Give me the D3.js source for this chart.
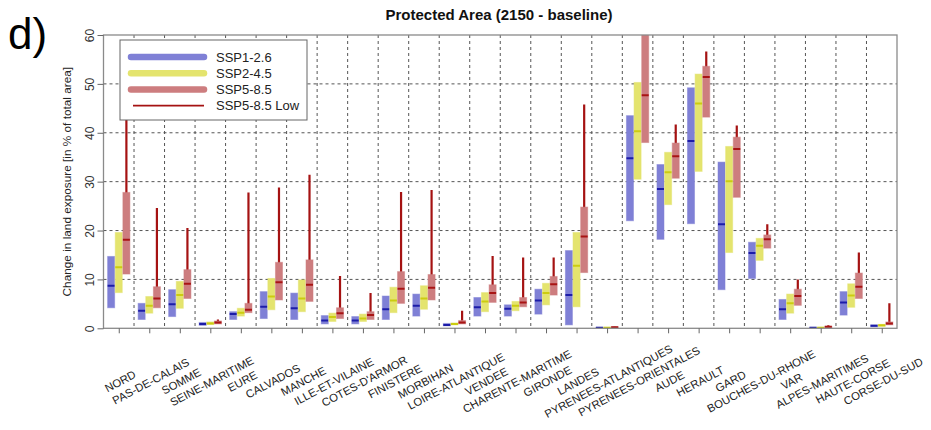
<!DOCTYPE html>
<html><head><meta charset="utf-8">
<script src="https://cdn.jsdelivr.net/npm/d3@7"></script>
<style>body{margin:0;background:#fff;} svg{display:block;font-family:"Liberation Sans",Arial,sans-serif;}</style>
</head><body>
<svg id="chart" width="931" height="430"></svg>
<script>
const categories = ["NORD","PAS-DE-CALAIS","SOMME","SEINE-MARITIME","EURE","CALVADOS","MANCHE","ILLE-ET-VILAINE","COTES-D'ARMOR","FINISTERE","MORBIHAN","LOIRE-ATLANTIQUE","VENDEE","CHARENTE-MARITIME","GIRONDE","LANDES","PYRENEES-ATLANTIQUES","PYRENEES-ORIENTALES","AUDE","HERAULT","GARD","BOUCHES-DU-RHONE","VAR","ALPES-MARITIMES","HAUTE-CORSE","CORSE-DU-SUD"];

// SSP1-2.6
const ssp126Low  = [4.2,1.8,2.4,0.6,1.8,2.0,1.8,0.9,0.9,1.8,2.5,0.5,2.5,2.5,2.9,0.7,0.0,22.0,18.2,21.4,7.9,10.2,1.8,0.0,2.7,0.3];
const ssp126Med  = [8.7,3.6,4.9,0.9,2.9,4.4,4.1,1.6,1.6,3.9,4.6,0.7,4.3,4.0,5.7,6.8,0.1,34.8,28.5,38.3,21.3,15.4,3.9,0.1,5.3,0.5];
const ssp126High = [14.7,5.1,7.9,1.2,3.4,7.5,7.2,2.6,2.4,6.6,7.0,1.0,6.3,4.8,8.0,15.9,0.2,43.5,33.5,49.2,34.0,17.6,5.9,0.2,7.5,0.7];
// SSP2-4.5
const ssp245Low  = [7.3,3.1,4.1,0.8,2.5,3.8,3.4,1.4,1.4,3.2,3.9,0.7,3.4,3.6,4.8,4.4,0.0,30.5,25.3,32.1,15.5,13.9,3.1,0.0,4.3,0.4];
const ssp245Med  = [12.5,4.6,6.8,1.0,3.2,6.5,6.1,2.3,2.0,5.7,6.1,0.9,5.5,4.6,7.2,12.8,0.1,40.3,31.9,46.0,30.1,16.9,5.1,0.1,6.7,0.6];
const ssp245High = [19.6,6.5,9.6,1.3,4.1,10.2,9.9,3.1,2.9,8.4,8.7,1.1,7.3,5.5,9.2,19.6,0.2,50.3,36.0,52.0,37.2,18.4,7.0,0.2,9.1,0.8];
// SSP5-8.5
const ssp585Low  = [11.1,4.2,6.1,0.9,3.2,5.8,5.5,2.0,1.8,5.1,5.8,0.9,5.3,4.4,6.8,11.4,0.1,38.0,30.7,43.2,26.8,16.4,4.7,0.1,6.1,0.7];
const ssp585Med  = [18.1,6.1,9.1,1.2,3.8,9.4,8.9,3.1,2.7,8.1,8.3,1.2,7.2,5.3,9.0,18.8,0.2,47.7,35.2,51.4,36.7,18.2,6.6,0.3,8.5,1.0];
const ssp585High = [27.8,8.5,12.0,1.5,5.1,13.5,14.0,4.2,3.4,11.6,11.0,1.6,8.9,6.3,10.6,24.8,0.3,62.0,37.9,53.6,39.1,19.1,8.0,0.4,11.3,1.3];
// SSP5-8.5 Low (upper end of thin line)
const ssp585LowTop = [46.0,24.6,20.5,1.8,27.8,28.8,31.4,10.7,7.2,27.9,28.3,3.6,14.8,14.5,14.5,45.8,0.3,65.0,41.7,56.6,41.5,21.3,10.0,0.6,15.5,5.1];

const yTicks = [0,10,20,30,40,50,60];
const seriesNames = ["SSP1-2.6","SSP2-4.5","SSP5-8.5","SSP5-8.5 Low"];

const series = [
  {name:"SSP1-2.6", lo:ssp126Low, med:ssp126Med, hi:ssp126High, fill:"#7f80d6", medc:"#1c1ca8", off:-1},
  {name:"SSP2-4.5", lo:ssp245Low, med:ssp245Med, hi:ssp245High, fill:"#e4e46e", medc:"#cccc10", off:0},
  {name:"SSP5-8.5", lo:ssp585Low, med:ssp585Med, hi:ssp585High, fill:"#cd7d7f", medc:"#a81414", off:1}
];
const lineColor = "#a51212";

const svg = d3.select("#chart");
const L=103.5, R=897, T=35, B=328.3;
const x = d3.scaleLinear().domain([0.5, categories.length+0.5]).range([L,R]);
const y = d3.scaleLinear().domain([0,60]).range([B,T]);
const step = x(2)-x(1);
const offs = step*0.25, bw = step*0.23;

svg.append("defs").append("clipPath").attr("id","clip")
  .append("rect").attr("x",L).attr("y",T).attr("width",R-L).attr("height",B-T);

// grid
const grid = svg.append("g").attr("stroke","#555").attr("stroke-width",1).attr("stroke-dasharray","3,3");
grid.selectAll("line.h").data(yTicks.slice(1,-1)).join("line")
  .attr("x1",L).attr("x2",R).attr("y1",d=>y(d)).attr("y2",d=>y(d));
grid.selectAll("line.v").data(d3.range(1,categories.length)).join("line")
  .attr("x1",d=>x(d+0.5)).attr("x2",d=>x(d+0.5)).attr("y1",T).attr("y2",B);

const plot = svg.append("g").attr("clip-path","url(#clip)");

// low lines
plot.selectAll("line.low").data(categories).join("line")
  .attr("x1",(d,i)=>x(i+1)+offs).attr("x2",(d,i)=>x(i+1)+offs)
  .attr("y1",(d,i)=>y(ssp585Med[i])).attr("y2",(d,i)=>y(ssp585LowTop[i]))
  .attr("stroke",lineColor).attr("stroke-width",2.2);

series.forEach(s=>{
  const g = plot.append("g");
  g.selectAll("rect").data(categories).join("rect")
    .attr("x",(d,i)=>x(i+1)+s.off*offs-bw/2)
    .attr("width",bw)
    .attr("y",(d,i)=>y(s.hi[i]))
    .attr("height",(d,i)=>Math.max(2,y(s.lo[i])-y(s.hi[i])))
    .attr("fill",s.fill).attr("stroke",s.fill).attr("stroke-opacity",0.5).attr("stroke-width",1);
  g.selectAll("line").data(categories).join("line")
    .attr("x1",(d,i)=>x(i+1)+s.off*offs-bw/2).attr("x2",(d,i)=>x(i+1)+s.off*offs+bw/2)
    .attr("y1",(d,i)=>y(s.med[i])).attr("y2",(d,i)=>y(s.med[i]))
    .attr("stroke",s.medc).attr("stroke-width",2);
});

// frame
svg.append("rect").attr("x",L).attr("y",T).attr("width",R-L).attr("height",B-T)
  .attr("fill","none").attr("stroke","#8a8a8a").attr("stroke-width",1.3);

// y axis
const yAxis = svg.append("g").attr("transform",`translate(${L},0)`)
  .call(d3.axisLeft(y).tickValues(yTicks).tickSize(6).tickFormat(d3.format("d")));
yAxis.select(".domain").remove();
yAxis.selectAll("line").attr("stroke","#666");
yAxis.selectAll("text").attr("font-size",12).attr("fill","#333")
  .attr("font-family","Liberation Sans, Arial, sans-serif")
  .attr("x",null).attr("dy",null)
  .attr("text-anchor","middle")
  .attr("transform","translate(-10,0) rotate(-90)");

// x axis
const xAxis = svg.append("g").attr("transform",`translate(0,${B})`)
  .call(d3.axisBottom(x).tickValues(d3.range(1,categories.length+1)).tickSize(5).tickFormat(d=>categories[d-1]));
xAxis.select(".domain").remove();
xAxis.selectAll("line").attr("stroke","#666");
xAxis.selectAll("text").attr("font-size",11.3).attr("fill","#222")
  .attr("font-family","Liberation Sans, Arial, sans-serif")
  .attr("y",null).attr("dy","0.35em")
  .attr("text-anchor","middle")
  .attr("transform","translate(1,53) rotate(-28)");

// y title
svg.append("text").attr("transform",`translate(67,${(T+B)/2}) rotate(-90)`)
  .attr("text-anchor","middle").attr("dy","0.35em").attr("font-size",11.8).attr("fill","#222")
  .text("Change in land exposure [in % of total area]");

// title
svg.append("text").attr("x",499).attr("y",20).attr("text-anchor","middle")
  .attr("font-size",15).attr("font-weight","bold").attr("fill","#111")
  .text("Protected Area (2150 - baseline)");

// panel label
svg.append("text").attr("x",8).attr("y",49).attr("font-size",44).attr("fill","#000")
  .attr("font-family","Liberation Sans, Arial, sans-serif").text("d)");

// legend
const lg = svg.append("g");
lg.append("rect").attr("x",120).attr("y",40).attr("width",187).attr("height",80)
  .attr("fill","#fff").attr("stroke","#666").attr("stroke-width",1);
const legendStyles = [
  {c:"#7f80d6", w:6.5}, {c:"#e4e46e", w:6.5}, {c:"#cd7d7f", w:6.5}, {c:lineColor, w:1.8}
];
seriesNames.forEach((n,i)=>{
  const yy = 57 + i*16.2;
  lg.append("line").attr("x1",i<3?131:133).attr("x2",204).attr("y1",yy).attr("y2",yy)
    .attr("stroke",legendStyles[i].c).attr("stroke-width",legendStyles[i].w)
    .attr("stroke-linecap",i<3?"round":"butt");
  lg.append("text").attr("x",216).attr("y",yy).attr("dy","0.36em").attr("font-size",13).attr("fill","#222")
    .text(n);
});
</script>
</body></html>
